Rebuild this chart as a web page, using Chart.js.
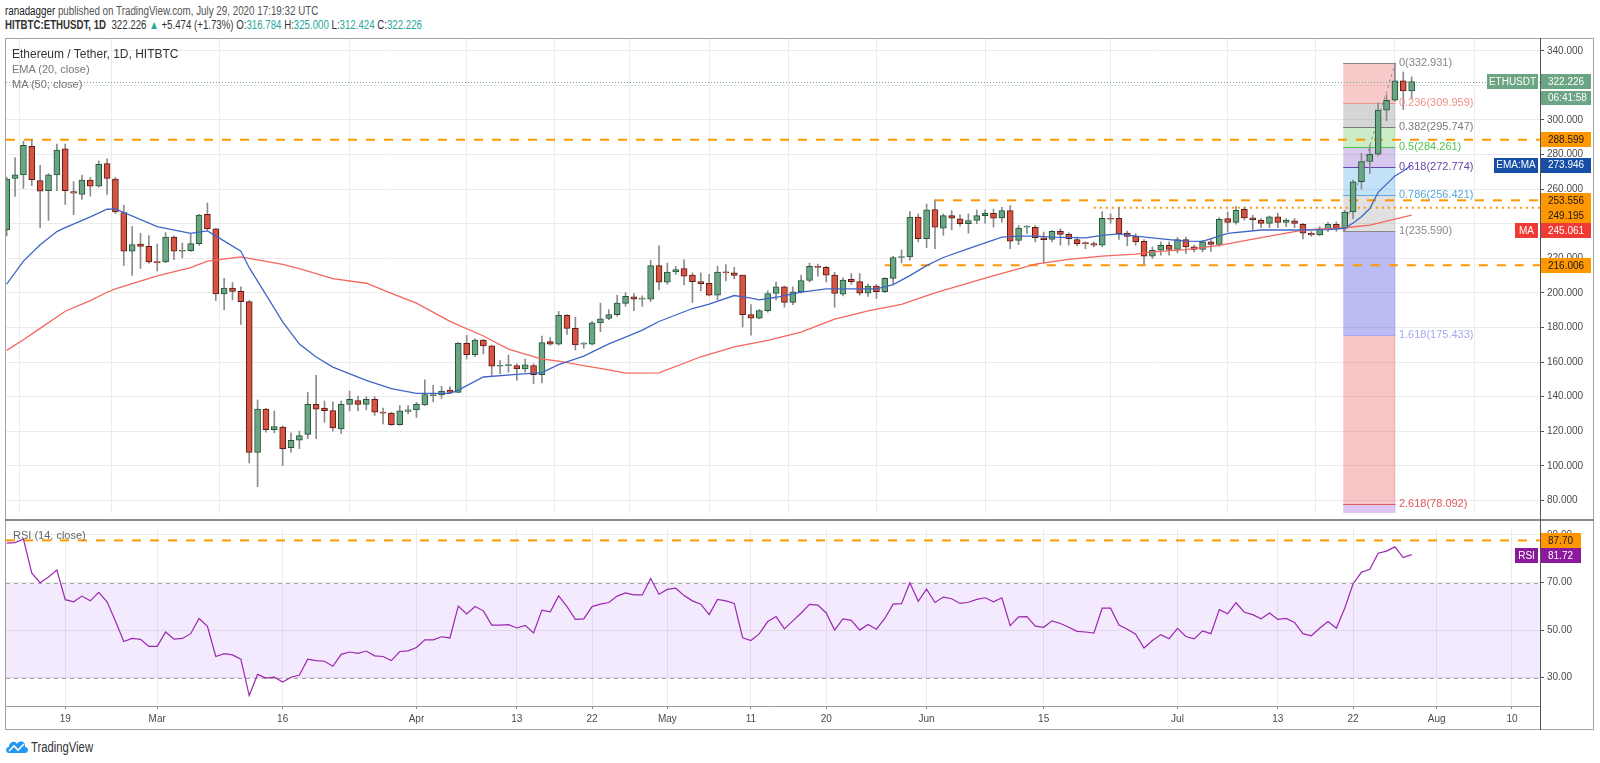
<!DOCTYPE html>
<html>
<head>
<meta charset="utf-8">
<script src="https://cdn.jsdelivr.net/npm/chart.js@4.4.1/dist/chart.umd.min.js"></script>
<style>
  body { margin: 0; width: 1600px; height: 763px; background: #fff; position: relative; overflow: hidden;
         font-family: "Liberation Sans", Arial, sans-serif; }
  .abs { position: absolute; white-space: nowrap; }
  .fit { transform-origin: 0 50%; }
  #priceBox { position: absolute; left: 0; top: 0; width: 1600px; height: 522px; }
  #rsiBox { position: absolute; left: 0; top: 520px; width: 1600px; height: 212px; }
  .line { position: absolute; pointer-events: none; }
</style>
</head>
<body>
<div class="abs fit" id="head1" style="left:5px;top:4px;font-size:12px;line-height:14px;color:#555"><span style="color:#222">ranadagger</span> published on TradingView.com, July 29, 2020 17:19:32 UTC</div>
<div class="abs fit" id="head2" style="left:5px;top:18px;font-size:12px;line-height:14px;color:#333"><b>HITBTC:ETHUSDT, 1D</b>&nbsp; 322.226 <span style="color:#26a69a">&#9650;</span> +5.474 (+1.73%) O:<span style="color:#26a69a">316.784</span> H:<span style="color:#26a69a">325.000</span> L:<span style="color:#26a69a">312.424</span> C:<span style="color:#26a69a">322.226</span></div>

<div id="priceBox"><canvas id="price"></canvas></div>
<div id="rsiBox"><canvas id="rsi"></canvas></div>

<div class="abs" style="left:12px;top:47px;font-size:12px;line-height:14px;color:#333">Ethereum / Tether, 1D, HITBTC</div>
<div class="abs" style="left:12px;top:62px;font-size:11px;line-height:14px;color:#777">EMA (20, close)</div>
<div class="abs" style="left:12px;top:77px;font-size:11px;line-height:14px;color:#777">MA (50, close)</div>
<div class="abs" style="left:13px;top:528px;font-size:11px;line-height:14px;color:#666">RSI (14, close)</div>

<!-- marco -->
<div class="line" style="left:5px;top:38px;width:1589px;height:692px;border:1px solid #a3a3a3;box-sizing:border-box"></div>
<div class="line" style="left:5px;top:519px;width:1589px;height:2px;background:#8a8a8a"></div>
<div class="line" style="left:1540px;top:38px;width:1px;height:692px;background:#555"></div>

<!-- logo -->
<svg class="abs" style="left:5px;top:738px" width="24" height="16" viewBox="0 0 24 16">
  <path d="M4 15 C0 15 0 9 4 9 C4 4 10 2 12 6 C14 2 21 3 20 9 C24 9 24 15 20 15 Z" fill="#2196f3"/>
  <path d="M4 13 L9 8 L13 12 L19 6" stroke="#fff" stroke-width="1.6" fill="none"/>
</svg>
<div class="abs fit" id="logoText" style="left:31px;top:739px;font-size:14px;line-height:16px;color:#333">TradingView</div>

<script>
// --- Datos (índice de día: 0 = 12 feb 2020) ---
const tickDays = [7, 18, 33, 49, 61, 70, 79, 89, 98, 110, 124, 140, 152, 161, 171, 180];
const tickLabels = ["19", "Mar", "16", "Apr", "13", "22", "May", "11", "20", "Jun", "15", "Jul", "13", "22", "Aug", "10"];

const opens = [236.4, 266.2, 268.3, 284.8, 264.9, 259.2, 268.3, 283.3, 258.6, 256.9,
  265.3, 261.7, 274.8, 265.8, 246.5, 224.1, 228.3, 226.9, 218, 218,
  232.3, 224.1, 224.5, 228.5, 245.4, 237, 199.4, 202.8, 200.9, 195,
  107.8, 132.8, 120.9, 122.4, 110.5, 114.8, 118.2, 135.6, 133.4, 132,
  121.4, 135.6, 137.7, 135.6, 138.5, 130.7, 130.5, 123.9, 131.5, 132.4,
  135.3, 140.6, 141, 143.8, 142.5, 170.9, 164.3, 172.8, 169.4, 157.6,
  158, 158, 156.1, 158, 152.7, 171.9, 170.4, 187.1, 179.5, 170.4,
  170.4, 182.7, 185.3, 187.5, 194, 197.8, 196.4, 196.4, 215.8, 206.3,
  212.2, 214.1, 210.3, 206.5, 205.5, 198.7, 212.2, 211.6, 210.3, 187.5,
  185.4, 189.8, 199.7, 203.5, 194.5, 200.6, 207.2, 215.4, 214.8, 210.3,
  199.3, 207.8, 206.5, 199.8, 204, 200.8, 208.4, 220.5, 220.9, 243.8,
  231.4, 248.2, 237.5, 244.7, 242.8, 240, 241.9, 244.7, 246.1, 243.4,
  247.6, 230.4, 238.1, 238, 231.9, 231, 235.6, 233.9, 230.8, 228.9,
  228.5, 227.6, 243.2, 243.2, 234.6, 232.7, 229.8, 221.3, 224.7, 227.6,
  225.1, 230.8, 226.6, 225.1, 229.5, 228, 243, 240.8, 248.4, 243.4,
  242.1, 240.2, 244, 240.8, 241.7, 239.6, 234.5, 233.6, 237, 239.6,
  237.4, 246.8, 264.3, 276, 280.3, 305.7, 311.4, 322.7, 316.784];
const highs = [267, 278.2, 287.7, 288.6, 273.8, 269, 286.1, 286.1, 264.3, 268.1,
  266.8, 276.3, 277.6, 266.8, 250.7, 238.3, 234.5, 233.2, 228.3, 234.9,
  233, 228.9, 234.5, 245.4, 252, 237.4, 208.5, 206.1, 203.6, 195.6,
  138.1, 133.3, 131.8, 123.2, 119.1, 120.1, 142.5, 152.3, 137.5, 137.1,
  137.5, 143.2, 140.4, 140, 140, 133.4, 131, 134.9, 134.9, 136.8,
  149.8, 146.6, 146, 145.7, 171.3, 175.5, 173.6, 173.2, 169.8, 160.9,
  164.1, 159, 161.8, 159, 175.1, 174.2, 189.3, 187.5, 186, 171.3,
  183.6, 194.1, 190.4, 198.7, 200.2, 199.7, 198.3, 218.8, 227.2, 217.3,
  215.4, 219.2, 211.6, 211.6, 210.7, 215.4, 216.4, 214.8, 210.3, 193.2,
  190.4, 201.2, 206.3, 204, 203.5, 210.3, 217.3, 216.7, 215.4, 212,
  208.8, 211.2, 211.2, 205.3, 205, 208.8, 221.1, 224.9, 247, 245.7,
  251.4, 253.9, 245.7, 247.6, 245.1, 245.7, 248, 248, 248.5, 249.5,
  250.5, 239, 239, 239, 235.2, 236.1, 237.1, 234.8, 232.3, 229.5,
  229.5, 247, 245.7, 249.5, 235.8, 234.2, 230.8, 226.6, 229.5, 229.5,
  232, 232.3, 227.6, 230.4, 231, 243.6, 246.8, 250, 249.6, 244.9,
  243, 244.5, 246.2, 243, 243, 240.2, 235.5, 238.3, 240.8, 241.1,
  247.7, 265.2, 280.7, 285.4, 309.9, 314.6, 332.931, 327.8, 325];
const lows = [233, 255.8, 260.5, 262, 237.8, 242, 259.2, 251.2, 245.3, 254.1,
  256, 261.1, 256.9, 245.9, 215.9, 210.2, 214.2, 217, 212.7, 217.5,
  219.3, 220.3, 224, 227.5, 236.4, 195.6, 190.3, 196, 181.8, 101.7,
  88, 119.5, 119.1, 100.2, 108, 110, 115.7, 115.7, 125.2, 120.1,
  118.7, 131.8, 131.8, 132.4, 129.2, 124.2, 123.5, 123.5, 130, 128,
  135, 137, 139, 142.3, 142.3, 161.8, 163.1, 164.7, 152.3, 153.3,
  154.2, 149.5, 154.2, 147.6, 148, 169.8, 169.8, 176, 167, 168,
  170, 177.6, 184.5, 186.6, 192.3, 189.8, 192.3, 195, 201.7, 205,
  210.7, 204.6, 194.5, 201.2, 198.3, 196, 206.9, 208.2, 180.3, 175.6,
  185, 188.8, 195.9, 191.7, 193.2, 199.9, 206.3, 209.7, 206.3, 191.7,
  198.3, 205, 198.7, 198, 196.8, 200.2, 205, 217.3, 219, 229.5,
  226.2, 225.6, 233.3, 236.5, 238.6, 234.6, 240, 240.3, 238, 240.9,
  225.6, 227.9, 234.2, 229.5, 217.1, 229.5, 227.6, 227.6, 227.2, 225.6,
  226.6, 226.6, 240.3, 231, 227.2, 227.6, 216.7, 219.9, 221.8, 221.8,
  223.2, 222.8, 223.7, 223.7, 224, 227, 235.5, 239.8, 242.1, 236.4,
  237.7, 237.7, 237.7, 238.3, 237.7, 231.3, 232.7, 233.2, 235.5, 235.6,
  235.59, 243, 260, 269, 279.2, 299.5, 310.8, 306, 312.424];
const closes = [265.8, 268.3, 285.4, 265.5, 258.8, 268.3, 282.6, 259.2, 257.7, 265.3,
  261.7, 274.4, 266.2, 246.9, 224.1, 227.9, 226.9, 218, 217.5, 232.3,
  224.1, 224.7, 228.5, 245, 237, 199.4, 202.8, 200.9, 195, 107.8,
  132.8, 120.9, 122.8, 109.9, 114.8, 117.5, 135.6, 132.8, 132, 122,
  135.6, 138.5, 135.6, 138.5, 131, 130.5, 123.9, 131.8, 132.4, 135.6,
  141.3, 141.3, 143.2, 142.5, 170.9, 164.3, 172.8, 169.4, 157.6, 158,
  158.4, 156.1, 158.4, 152.7, 171.3, 170.4, 187.1, 179.5, 170, 170.6,
  182.7, 185.1, 187.5, 194.2, 198, 196.4, 196.6, 215.8, 206.3, 212,
  213.5, 209.7, 206.5, 205.4, 198.7, 212, 211.6, 210.1, 187.5, 185.4,
  189.8, 199.7, 203.5, 194.5, 200.6, 207.2, 215.4, 214.8, 210.3, 199.7,
  207.4, 206.5, 199.8, 204, 200.8, 208.4, 220.5, 220.9, 243.8, 231.4,
  248, 238, 244.7, 243.2, 240, 241.9, 244.7, 246.1, 243.2, 247.6,
  230, 237.5, 238.3, 231.9, 230.8, 235.6, 233.9, 231.4, 228.5, 228.5,
  227.6, 243.2, 242.6, 234.2, 232.7, 229.5, 221.3, 224.7, 227.6, 225.1,
  230.8, 226.6, 225.1, 229.5, 228, 242.5, 240.8, 247.7, 243.4, 242.4,
  240.2, 244, 240.8, 242.1, 240.2, 234.5, 233.6, 237, 239.6, 237.4,
  246.8, 264.3, 276, 280.3, 305.7, 311.4, 322.7, 316.784, 322.226];

const emaDays = [0, 2, 4, 6, 7, 10, 12, 13, 18, 22, 24, 25, 28, 29, 31, 33, 35, 37, 39, 43,
  46, 49, 53, 54, 57, 61, 64, 66, 69, 72, 74, 76, 78, 82, 84, 87, 89, 90, 92, 95,
  98, 104, 106, 108, 110, 112, 115, 117, 119, 121, 123, 125, 129, 131, 133, 135, 137, 139, 141, 143,
  146, 150, 154, 158, 160, 161, 162, 163, 164, 165, 166, 167, 168];
const emaValues = [205.1, 218.4, 227.9, 235.5, 237.8, 244, 248.4, 248.6, 238.3, 234.5, 235.9, 233, 224.1, 214.6, 199, 183.3, 170.4, 163, 157.1, 149.5,
  144.7, 141.9, 141.9, 143.8, 151.4, 152.9, 153.9, 158.5, 163.5, 170.5, 174.5, 178.5, 183.5, 191, 193.5, 198.5, 197, 196, 197.5, 200.5,
  202.4, 202.4, 204.8, 210, 215.8, 220.5, 225.6, 229, 232.3, 232.9, 232.9, 232.3, 231.8, 233.3, 234.2, 232.9, 231.8, 230.8, 230, 229.8,
  234.5, 236.4, 236.4, 236.6, 237.4, 240.4, 244.1, 248.8, 258.2, 262.9, 267.6, 270.5, 273.946];
const maDays = [0, 2, 4, 6, 7, 10, 12, 13, 18, 22, 24, 28, 33, 35, 39, 43, 46, 49, 53, 57,
  60, 64, 66, 69, 72, 74, 78, 83, 87, 91, 95, 99, 103, 107, 111, 117, 123, 127, 131, 135,
  137, 141, 145, 150, 155, 160, 163, 168];
const maValues = [166.8, 172.9, 179.5, 186.1, 189.4, 195.6, 200.4, 202.3, 209.9, 214.6, 218.4, 220.9, 216.5, 214, 208.3, 205.6, 199.8, 194.1, 183.6, 175.1,
  167.5, 161.8, 160.6, 158, 155.5, 153.6, 153.8, 163.1, 168.8, 172.6, 177.3, 184.9, 189.6, 193.4, 200.1, 208.6, 216.7, 219.4, 221.3, 222.4,
  223.7, 225.1, 227.5, 232, 236.3, 237.7, 239.2, 245.061];

const rsiValues = [86.6, 86.8, 88.3, 73.9, 69.9, 72.3, 75.2, 62.8, 61.9, 64.3,
  62.3, 65.9, 61.9, 53.8, 45.2, 46.5, 46.1, 43.2, 43.2, 49.2,
  46.2, 46.5, 48.5, 54.9, 51.6, 38.9, 40.1, 39.6, 37.8, 22.5,
  31.4, 29.8, 30.2, 28.2, 30.2, 31.1, 37.8, 37.2, 36.9, 34.8,
  39.8, 40.8, 40.2, 41.2, 39.2, 38.9, 37.2, 41, 41.3, 42.7,
  45.9, 45.9, 47.2, 46.7, 60.1, 56.8, 59.9, 58.1, 52.1, 52.1,
  52.3, 50.9, 52, 48.8, 58.4, 57.7, 64.4, 59.9, 54.5, 54.7,
  59.9, 60.9, 61.6, 64.3, 65.6, 64.8, 64.8, 71.7, 65.1, 67.1,
  67.6, 64.5, 62.3, 60.9, 56.5, 62.9, 62.3, 61.2, 46.8, 45.6,
  48.5, 53.6, 55.7, 50.5, 53.9, 57.2, 60.8, 60.5, 57.2, 50,
  54.7, 54.1, 50, 52.4, 50.4, 54.9, 60.9, 61.1, 69.9, 62.1,
  67.2, 61.6, 63.9, 63.2, 61.2, 61.7, 62.9, 63.6, 61.9, 63.6,
  51.9, 55.6, 55.7, 51.7, 51.2, 53.9, 52.8, 51.2, 49.5, 49.2,
  48.7, 59.2, 59.2, 52.1, 50.4, 48.3, 42.5, 45.6, 48.1, 46.4,
  50.7, 47.3, 46.3, 49.7, 48.5, 58.6, 56.9, 61.5, 57.5, 56.5,
  54.8, 57.2, 54.5, 54.9, 53.2, 48.5, 47.6, 50.8, 53.6, 50.8,
  59.2, 69.5, 74.3, 75.6, 82.3, 83.2, 85, 80.5, 81.72];

const fibRatios = ["0", "0.236", "0.382", "0.5", "0.618", "0.786", "1", "1.618", "2.618"];
const fibPrices = [332.931, 309.959, 295.747, 284.261, 272.774, 256.421, 235.590, 175.433, 78.092];
const fibStartDay = 160;
const fibEndDay = 166;

const levelPrices = [288.599, 253.556, 249.195, 216.006];
const levelStartDays = [-1, 111, 130, 105];
const rsiLevel = 87.70;
const countdown = "06:41:58";

// --- Estilos ---
const UP = "#6ba583", DOWN = "#d75442";
const UP_BORDER = "#225437", DOWN_BORDER = "#5b1a13";
const ORANGE = "#ff9800";
const fibFills = ["rgba(235,90,90,0.32)", "rgba(120,120,120,0.30)", "rgba(90,200,80,0.32)", "rgba(110,60,190,0.28)",
  "rgba(60,160,230,0.30)", "rgba(130,130,130,0.25)", "rgba(80,80,225,0.38)", "rgba(230,80,80,0.33)", "rgba(150,70,220,0.30)"];
const fibColors = ["#858585", "#f0908a", "#7a7a7a", "#4cc14c", "#6a45a8", "#57a9dc", "#8a8a8a", "#a8a8ee", "#e05a5a"];
const XMIN = -0.084, XMAX = 183.35;
const tickFont = { family: "Liberation Sans, Arial, sans-serif", size: 10 };

const last = closes.length - 1;
const candleBodies = closes.map((c, i) => ({ x: i, y: [opens[i], c] }));
const candleWicks = closes.map((c, i) => ({ x: i, y: [lows[i], highs[i]] }));
const isUp = closes.map((c, i) => c >= opens[i]);

function drawTag(ctx, x0, w, yc, h, text, bg, fg, center) {
  ctx.fillStyle = bg;
  ctx.fillRect(x0, Math.round(yc - h / 2), w, h);
  ctx.fillStyle = fg;
  ctx.font = "10px Liberation Sans, Arial, sans-serif";
  ctx.textBaseline = "middle";
  ctx.textAlign = center ? "center" : "left";
  ctx.fillText(text, center ? x0 + w / 2 : x0 + 7, yc + 0.5);
}

// --- Dibujos extra del panel de precio ---
const pricePlugin = {
  id: "priceExtras",
  beforeDatasetsDraw(chart) {
    const { ctx, chartArea: a, scales: { x, y } } = chart;
    ctx.save();
    ctx.beginPath();
    ctx.rect(a.left, a.top, a.width, a.height);
    ctx.clip();

    // Fibonacci
    const x0 = x.getPixelForValue(fibStartDay) - 1.5, x1 = x.getPixelForValue(fibEndDay) + 0.5;
    for (let i = 0; i < fibPrices.length; i++) {
      const yTop = y.getPixelForValue(fibPrices[i]);
      const yBot = i + 1 < fibPrices.length ? y.getPixelForValue(fibPrices[i + 1]) : a.bottom;
      ctx.fillStyle = fibFills[i];
      ctx.fillRect(x0, yTop, x1 - x0, yBot - yTop);
    }
    for (let i = 0; i < fibPrices.length; i++) {
      const yy = Math.round(y.getPixelForValue(fibPrices[i])) + 0.5;
      ctx.strokeStyle = fibColors[i];
      ctx.lineWidth = 1;
      ctx.beginPath(); ctx.moveTo(x0, yy); ctx.lineTo(x1, yy); ctx.stroke();
    }
    ctx.setLineDash([3, 3]);
    ctx.strokeStyle = "#8c8c8c";
    ctx.beginPath();
    ctx.moveTo(x0, y.getPixelForValue(fibPrices[6]));
    ctx.lineTo(x1, y.getPixelForValue(fibPrices[0]));
    ctx.stroke();

    // niveles horizontales
    ctx.strokeStyle = ORANGE;
    ctx.lineWidth = 2;
    levelPrices.forEach((p, i) => {
      const yy = y.getPixelForValue(p);
      const xs = levelStartDays[i] < 0 ? a.left : x.getPixelForValue(levelStartDays[i]);
      ctx.setLineDash(i === 2 ? [2, 4] : [9, 9]);
      ctx.beginPath(); ctx.moveTo(xs, yy); ctx.lineTo(a.right, yy); ctx.stroke();
    });

    // precio actual
    ctx.setLineDash([1, 2]);
    ctx.lineWidth = 1;
    ctx.strokeStyle = UP;
    const yc = Math.round(y.getPixelForValue(closes[last])) + 0.5;
    ctx.beginPath(); ctx.moveTo(a.left, yc); ctx.lineTo(a.right, yc); ctx.stroke();
    ctx.restore();
  },
  afterDraw(chart) {
    const { ctx, scales: { x, y } } = chart;
    ctx.save();
    // etiquetas Fibonacci
    const xl = x.getPixelForValue(fibEndDay) + 4;
    ctx.font = "11px Liberation Sans, Arial, sans-serif";
    ctx.textBaseline = "middle";
    ctx.textAlign = "left";
    fibPrices.forEach((p, i) => {
      ctx.fillStyle = fibColors[i];
      ctx.fillText(fibRatios[i] + "(" + p.toFixed(3) + ")", xl, y.getPixelForValue(p));
    });

    // etiquetas del eje
    const tags = [
      { v: closes[last], h: 15, extra: 14, text: closes[last].toFixed(3), bg: UP, fg: "#fff", name: "ETHUSDT", nx: 1487 },
      { v: levelPrices[0], h: 15, extra: 0, text: levelPrices[0].toFixed(3), bg: ORANGE, fg: "#1a1a1a" },
      { v: emaValues[emaValues.length - 1], h: 15, extra: 0, text: emaValues[emaValues.length - 1].toFixed(3), bg: "#174ea6", fg: "#fff", name: "EMA:MA", nx: 1494 },
      { v: levelPrices[1], h: 15, extra: 0, text: levelPrices[1].toFixed(3), bg: ORANGE, fg: "#1a1a1a" },
      { v: levelPrices[2], h: 15, extra: 0, text: levelPrices[2].toFixed(3), bg: ORANGE, fg: "#1a1a1a" },
      { v: maValues[maValues.length - 1], h: 15, extra: 0, text: maValues[maValues.length - 1].toFixed(3), bg: "#ef3b33", fg: "#fff", name: "MA", nx: 1515 },
      { v: levelPrices[3], h: 15, extra: 0, text: levelPrices[3].toFixed(3), bg: ORANGE, fg: "#1a1a1a" }
    ];
    tags.forEach(t => t.y = y.getPixelForValue(t.v));
    tags.sort((a, b) => a.y - b.y);
    let prevBottom = -1e9;
    tags.forEach(t => {
      if (t.y - t.h / 2 < prevBottom) t.y = prevBottom + t.h / 2;
      prevBottom = t.y + t.h / 2 + t.extra;
      drawTag(ctx, 1541, 50, t.y, t.h, t.text, t.bg, t.fg, false);
      if (t.name) drawTag(ctx, t.nx, 1538 - t.nx, t.y, t.h, t.name, t.bg, "#fff", true);
      if (t.extra) drawTag(ctx, 1541, 50, t.y + 16.5, 14, countdown, t.bg, "#fff", false);
    });
    ctx.restore();
  }
};

// --- Dibujos extra del panel RSI ---
const rsiPlugin = {
  id: "rsiExtras",
  beforeDatasetsDraw(chart) {
    const { ctx, chartArea: a, scales: { y } } = chart;
    ctx.save();
    const y70 = Math.round(y.getPixelForValue(70)) + 0.5, y30 = Math.round(y.getPixelForValue(30)) + 0.5;
    ctx.fillStyle = "rgba(160,90,240,0.13)";
    ctx.fillRect(a.left, y70, a.width, y30 - y70);
    ctx.strokeStyle = "#a6a6a6";
    ctx.lineWidth = 1;
    ctx.setLineDash([4, 4]);
    [y70, y30].forEach(yy => { ctx.beginPath(); ctx.moveTo(a.left, yy); ctx.lineTo(a.right, yy); ctx.stroke(); });
    const yl = y.getPixelForValue(rsiLevel);
    ctx.strokeStyle = ORANGE;
    ctx.lineWidth = 2;
    ctx.setLineDash([9, 9]);
    ctx.beginPath(); ctx.moveTo(a.left, yl); ctx.lineTo(a.right, yl); ctx.stroke();
    ctx.restore();
  },
  afterDraw(chart) {
    const { ctx, scales: { y } } = chart;
    ctx.save();
    const yl = y.getPixelForValue(rsiLevel);
    let yr = y.getPixelForValue(rsiValues[last]);
    if (yr - 7.5 < yl + 7.5) yr = yl + 15;
    drawTag(ctx, 1541, 40, yl, 15, rsiLevel.toFixed(2), ORANGE, "#1a1a1a", false);
    drawTag(ctx, 1541, 40, yr, 15, rsiValues[last].toFixed(2), "#8a1a9b", "#fff", false);
    drawTag(ctx, 1515, 23, yr, 15, "RSI", "#8a1a9b", "#fff", true);
    ctx.restore();
  }
};

function fixWidth(w) { return scale => { scale.width = w; }; }

const gridColor = "#ebebeb";

new Chart(document.getElementById("price"), {
  type: "bar",
  data: {
    datasets: [
      { type: "line", data: emaDays.map((d, i) => ({ x: d, y: emaValues[i] })), borderColor: "#3f66c6", borderWidth: 1.3, pointRadius: 0, order: 0 },
      { type: "line", data: maDays.map((d, i) => ({ x: d, y: maValues[i] })), borderColor: "#f4675e", borderWidth: 1.3, pointRadius: 0, order: 0 },
      { data: candleBodies, barThickness: 6, grouped: false, minBarLength: 1, borderWidth: 1, borderSkipped: false,
        backgroundColor: isUp.map(u => u ? UP : DOWN), borderColor: isUp.map(u => u ? UP_BORDER : DOWN_BORDER), order: 1 },
      { data: candleWicks, barThickness: 1, grouped: false, backgroundColor: "#8c8c8e", borderWidth: 0, order: 2 }
    ]
  },
  options: {
    responsive: true, maintainAspectRatio: false, animation: false,
    layout: { padding: { top: 38, left: 6, right: 6, bottom: 2 } },
    plugins: { legend: { display: false }, tooltip: { enabled: false } },
    scales: {
      x: {
        type: "linear", min: XMIN, max: XMAX, offset: false,
        afterBuildTicks: s => { s.ticks = tickDays.map(v => ({ value: v })); },
        afterFit: s => { s.height = 0; },
        ticks: { display: false },
        grid: { color: gridColor, drawTicks: false },
        border: { display: false }
      },
      y: {
        position: "right", min: 72.76, max: 347.41,
        afterBuildTicks: s => { const t = []; for (let v = 80; v <= 340; v += 20) t.push({ value: v }); s.ticks = t; },
        afterFit: fixWidth(54),
        ticks: { color: "#4a4a4a", font: tickFont, padding: 3, callback: v => Number(v).toFixed(3) },
        grid: { color: gridColor, tickLength: 4, tickColor: "#555" },
        border: { display: true, color: "#555" }
      }
    }
  },
  plugins: [pricePlugin]
});

new Chart(document.getElementById("rsi"), {
  type: "line",
  data: {
    datasets: [
      { data: rsiValues.map((v, i) => ({ x: i, y: v })), borderColor: "#9c27b0", borderWidth: 1.2, pointRadius: 0 }
    ]
  },
  options: {
    responsive: true, maintainAspectRatio: false, animation: false,
    layout: { padding: { top: 0, left: 6, right: 6, bottom: 2 } },
    plugins: { legend: { display: false }, tooltip: { enabled: false } },
    scales: {
      x: {
        type: "linear", min: XMIN, max: XMAX, offset: false,
        afterBuildTicks: s => { s.ticks = tickDays.map(v => ({ value: v })); },
        afterFit: s => { s.height = 24; },
        ticks: { color: "#4a4a4a", font: tickFont, padding: 4, maxRotation: 0, autoSkip: false,
          callback: v => tickLabels[tickDays.indexOf(Math.round(v))] },
        grid: { color: gridColor, tickLength: 3, tickColor: "#888" },
        border: { display: true, color: "#9a9a9a" }
      },
      y: {
        position: "right", min: 18.1, max: 92.5,
        afterBuildTicks: s => { s.ticks = [30, 50, 70, 90].map(v => ({ value: v })); },
        afterFit: fixWidth(54),
        ticks: { color: "#4a4a4a", font: tickFont, padding: 3, callback: v => Number(v).toFixed(2) },
        grid: { color: gridColor, tickLength: 4, tickColor: "#555" },
        border: { display: true, color: "#555" }
      }
    }
  },
  plugins: [rsiPlugin]
});

// ajustar anchos de los textos de cabecera
function fit(id, width) {
  const el = document.getElementById(id);
  el.style.transform = "scaleX(" + (width / el.offsetWidth) + ")";
}
fit("head1", 313);
fit("head2", 417);
fit("logoText", 62);
</script>
</body>
</html>
